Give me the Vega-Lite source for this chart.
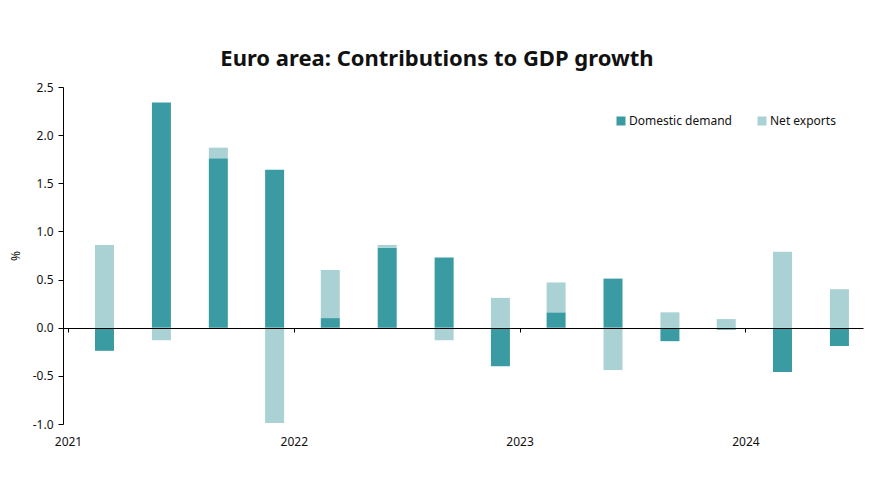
{
  "$schema": "https://vega.github.io/schema/vega-lite/v6.json",
  "autosize": "none",
  "width": 800,
  "height": 337,
  "padding": {"left": 63, "top": 87, "right": 29, "bottom": 78},
  "background": "white",
  "title": {
    "text": "Euro area: Contributions to GDP growth",
    "font": "Noto Sans",
    "fontSize": 22,
    "fontWeight": "bold",
    "color": "#111111",
    "anchor": "middle",
    "frame": "group",
    "dx": -26,
    "offset": 10
  },
  "config": {
    "view": {"stroke": null},
    "font": "Noto Sans"
  },
  "datasets": {
    "bars": [
      {"date": "2021-03-01", "component": "Domestic demand", "value": -0.24},
      {"date": "2021-03-01", "component": "Net exports", "value": 0.86},
      {"date": "2021-06-01", "component": "Domestic demand", "value": 2.34},
      {"date": "2021-06-01", "component": "Net exports", "value": -0.13},
      {"date": "2021-09-01", "component": "Domestic demand", "value": 1.76},
      {"date": "2021-09-01", "component": "Net exports", "value": 0.11},
      {"date": "2021-12-01", "component": "Domestic demand", "value": 1.64},
      {"date": "2021-12-01", "component": "Net exports", "value": -0.99},
      {"date": "2022-03-01", "component": "Domestic demand", "value": 0.1},
      {"date": "2022-03-01", "component": "Net exports", "value": 0.5},
      {"date": "2022-06-01", "component": "Domestic demand", "value": 0.83},
      {"date": "2022-06-01", "component": "Net exports", "value": 0.03},
      {"date": "2022-09-01", "component": "Domestic demand", "value": 0.73},
      {"date": "2022-09-01", "component": "Net exports", "value": -0.13},
      {"date": "2022-12-01", "component": "Domestic demand", "value": -0.4},
      {"date": "2022-12-01", "component": "Net exports", "value": 0.31},
      {"date": "2023-03-01", "component": "Domestic demand", "value": 0.16},
      {"date": "2023-03-01", "component": "Net exports", "value": 0.31},
      {"date": "2023-06-01", "component": "Domestic demand", "value": 0.51},
      {"date": "2023-06-01", "component": "Net exports", "value": -0.44},
      {"date": "2023-09-01", "component": "Domestic demand", "value": -0.14},
      {"date": "2023-09-01", "component": "Net exports", "value": 0.16},
      {"date": "2023-12-01", "component": "Domestic demand", "value": -0.02},
      {"date": "2023-12-01", "component": "Net exports", "value": 0.09},
      {"date": "2024-03-01", "component": "Domestic demand", "value": -0.46},
      {"date": "2024-03-01", "component": "Net exports", "value": 0.79},
      {"date": "2024-06-01", "component": "Domestic demand", "value": -0.19},
      {"date": "2024-06-01", "component": "Net exports", "value": 0.4}
    ]
  },
  "data": {"name": "bars"},
  "mark": {"type": "bar", "size": 19},
  "encoding": {
    "x": {
      "field": "date",
      "type": "temporal",
      "scale": {"type": "utc", "domain": ["2021-01-01", "2024-07-01"]},
      "axis": {
        "title": null,
        "format": "%Y",
        "tickCount": {"interval": "year", "step": 1},
        "offset": -96,
        "domainColor": "#000000",
        "domainWidth": 1.2,
        "tickColor": "#000000",
        "tickSize": 4,
        "labelPadding": 104,
        "labelFont": "Noto Sans",
        "labelFontSize": 12,
        "labelColor": "#111111",
        "grid": false,
        "zindex": 1
      }
    },
    "y": {
      "field": "value",
      "type": "quantitative",
      "stack": "zero",
      "scale": {"domain": [-1, 2.5], "nice": false, "zero": false},
      "axis": {
        "title": "%",
        "titleFont": "Noto Sans",
        "titleFontSize": 12,
        "titleFontWeight": "normal",
        "titleColor": "#111111",
        "titlePadding": 10,
        "values": [-1, -0.5, 0, 0.5, 1, 1.5, 2, 2.5],
        "labelExpr": "replace(format(datum.value, '.1f'), '\u2212', '-')",
        "labelFont": "Noto Sans",
        "labelFontSize": 12,
        "labelColor": "#111111",
        "labelPadding": 5,
        "tickSize": 5,
        "tickColor": "#000000",
        "domainColor": "#000000",
        "grid": false
      }
    },
    "color": {
      "field": "component",
      "type": "nominal",
      "scale": {"domain": ["Domestic demand", "Net exports"], "range": ["#3a9ba3", "#aad2d4"]},
      "legend": {
        "title": null,
        "orient": "none",
        "legendX": 552,
        "legendY": 28,
        "direction": "horizontal",
        "symbolType": "square",
        "symbolSize": 81,
        "symbolStrokeWidth": 0,
        "labelFont": "Noto Sans",
        "labelFontSize": 12,
        "labelColor": "#111111",
        "columnPadding": 24,
        "labelOffset": 2
      }
    },
    "order": {"field": "component", "sort": "ascending"}
  }
}
